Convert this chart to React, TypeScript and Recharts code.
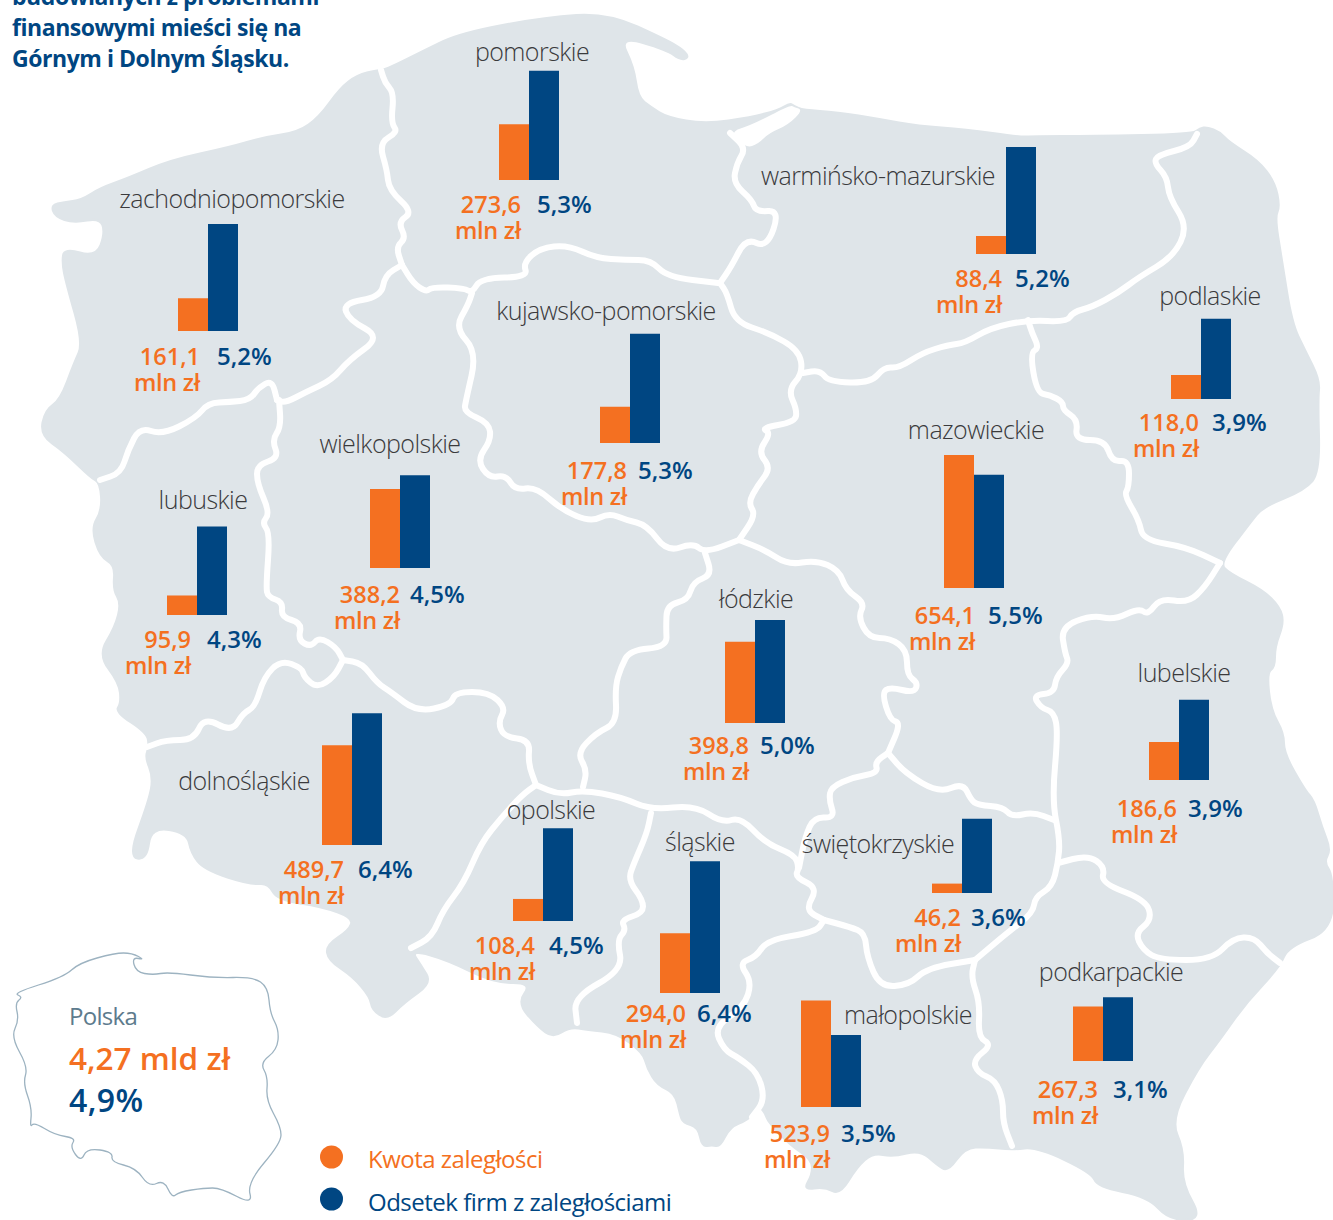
import { BarChart, Bar, XAxis, YAxis } from "recharts";

const ORANGE = "#f47021";
const BLUE = "#004682";
const MAP_GREY = "#dfe5e9";
const FONT = "'Open Sans', sans-serif";

// data
const regions = ["pomorskie", "zachodniopomorskie", "warmińsko-mazurskie", "podlaskie", "kujawsko-pomorskie", "wielkopolskie", "lubuskie", "mazowieckie", "łódzkie", "lubelskie", "dolnośląskie", "opolskie", "śląskie", "świętokrzyskie", "małopolskie", "podkarpackie"];
const amounts = [273.6, 161.1, 88.4, 118.0, 177.8, 388.2, 95.9, 654.1, 398.8, 186.6, 489.7, 108.4, 294.0, 46.2, 523.9, 267.3];
const shares = [5.3, 5.2, 5.2, 3.9, 5.3, 4.5, 4.3, 5.5, 5.0, 3.9, 6.4, 4.5, 6.4, 3.6, 3.5, 3.1];

// layout, same order as regions: bar left, bar baseline
const barLeft = [499, 178, 976, 1171, 600, 370, 167, 944, 725, 1149, 322, 513, 660, 932, 801, 1073];
const barBase = [180, 331, 254, 399, 443, 568, 615, 588, 723, 780, 845, 921, 993, 893, 1107, 1061];
// name label centre x, baseline y
const nameX = [532, 232, 878, 1210, 606, 390, 203, 976, 756, 1184, 244, 551, 700, 878, 908, 1111];
const nameY = [61, 208, 185, 305, 320, 453, 509, 439, 608, 682, 790, 819, 851, 853, 1024, 981];
// value labels: amount right edge, share left edge, baseline
const amountX = [521, 200, 1002, 1199, 627, 400, 191, 975, 749, 1177, 344, 535, 686, 961, 830, 1098];
const shareX = [537, 217, 1015, 1212, 638, 410, 207, 988, 760, 1188, 358, 549, 697, 971, 841, 1113];
const valueY = [213, 365, 287, 431, 479, 603, 648, 624, 754, 817, 878, 954, 1022, 926, 1142, 1098];

const CHART_H = 140;
const AMOUNT_MAX = 688; // 0.2035 px per mln zł
const SHARE_MAX = 6.796; // 20.6 px per percent

type Pt = number[];

const outline: Pt[] = [
  [51, 205], [64, 202], [81, 200], [100, 188], [128, 178], [170, 160], [230, 147], [264, 137], [298, 132], [319, 117], [340, 88], [357, 75], [377, 70], [385, 70],
  [425, 50], [460, 33], [545, 17], [608, 13], [667, 40], [684, 50], [689, 58], [680, 60], [667, 50], [619, 36], [634, 67], [638, 97], [651, 107], [667, 117],
  [705, 124], [752, 117], [778, 110], [790, 103], [794, 106], [803, 110], [837, 112], [880, 119], [918, 126], [965, 129], [1020, 137], [1033, 136], [1092, 136],
  [1192, 134], [1200, 128], [1207, 127], [1220, 132], [1229, 142], [1258, 160], [1275, 182], [1280, 207], [1275, 217], [1282, 260], [1292, 323], [1305, 350],
  [1320, 380], [1318, 400], [1320, 472], [1305, 490], [1263, 507], [1250, 523], [1220, 563], [1229, 573], [1263, 590], [1280, 607], [1284, 623], [1275, 647],
  [1275, 667], [1267, 673], [1271, 710], [1284, 733], [1284, 753], [1305, 790], [1314, 800], [1322, 827], [1331, 850], [1324, 862], [1333, 875], [1333, 930],
  [1288, 947], [1280, 967], [1246, 1003], [1220, 1040], [1199, 1067], [1171, 1120], [1184, 1150], [1182, 1183], [1203, 1220], [1169, 1220], [1148, 1197], [1097, 1187],
  [1092, 1173], [1037, 1147], [1012, 1150], [986, 1147], [965, 1148], [948, 1172], [937, 1165], [920, 1150], [893, 1157], [873, 1153], [857, 1167], [840, 1195],
  [825, 1187], [803, 1190], [812, 1175], [812, 1160], [790, 1145], [768, 1122], [765, 1113], [760, 1107], [748, 1120], [730, 1127], [720, 1147], [712, 1145],
  [702, 1147], [698, 1127], [683, 1123], [680, 1115], [675, 1093], [657, 1085], [647, 1068], [643, 1053], [617, 1033], [587, 1030], [570, 1027], [553, 1038],
  [538, 1027], [517, 1003], [532, 983], [494, 983], [447, 960], [411, 950], [421, 965], [432, 983], [404, 1003], [387, 1020], [372, 1010], [370, 997], [353, 977],
  [328, 960], [326, 945], [349, 930], [353, 918], [323, 907], [277, 900], [268, 883], [251, 885], [204, 870], [191, 853], [187, 833], [151, 827], [147, 860], [128, 857],
  [149, 800], [153, 777], [145, 757], [149, 747], [147, 733], [115, 712], [121, 703], [119, 683], [98, 655], [115, 627], [121, 603], [113, 590], [115, 565], [100, 557],
  [91, 528], [102, 510], [100, 483], [91, 478], [64, 452], [40, 435], [45, 410], [60, 400], [74, 363], [83, 343], [66, 283], [62, 263], [64, 248], [96, 257], [105, 233],
  [100, 218], [74, 223], [55, 217],
];

// Vistula lagoon, the white channel behind the spit
const lagoon: Pt[] = [[729, 132], [752, 125], [790, 105], [794, 107], [803, 110], [788, 125], [769, 133], [758, 144], [746, 148]];

const borders: Pt[][] = [
  [[381, 70], [385, 83], [394, 93], [391, 123], [398, 132], [379, 143], [387, 170], [389, 190], [413, 212], [398, 222], [406, 238], [396, 247], [402, 265]],
  [[402, 265], [385, 275], [381, 297], [343, 303], [349, 320], [381, 337], [349, 360], [332, 380], [306, 392], [285, 403], [277, 400]],
  [[277, 400], [272, 380], [258, 388], [250, 400], [230, 402], [208, 403], [196, 418], [162, 435], [140, 427], [128, 450], [121, 473], [100, 480]],
  [[279, 400], [281, 427], [272, 440], [279, 458], [257, 465], [257, 483], [270, 513], [262, 523], [270, 533], [266, 587], [268, 597], [283, 602], [281, 617], [302, 623], [298, 640], [311, 647], [319, 637], [336, 647], [343, 660]],
  [[343, 660], [334, 677], [317, 688], [304, 677], [302, 668], [281, 660], [264, 677], [255, 707], [243, 713], [232, 732], [204, 717], [194, 740], [166, 740], [147, 747]],
  [[343, 660], [362, 663], [377, 683], [391, 692], [417, 712], [451, 705], [455, 692], [489, 692], [506, 708], [498, 722], [504, 737], [530, 740], [528, 763], [536, 785]],
  [[536, 785], [522, 795], [502, 817], [481, 843], [464, 883], [443, 910], [432, 937], [411, 948]],
  [[536, 785], [560, 795], [583, 790], [621, 797], [651, 810], [695, 805], [722, 823], [741, 817], [765, 843], [795, 855], [799, 868], [795, 877], [818, 888], [805, 910], [824, 920]],
  [[651, 813], [647, 833], [634, 863], [628, 880], [643, 900], [643, 913], [621, 920], [626, 930], [617, 940], [623, 970], [574, 997], [577, 1023]],
  [[824, 920], [816, 932], [767, 940], [756, 957], [739, 963], [752, 982], [744, 1007], [714, 1027], [724, 1050], [739, 1058], [758, 1073], [765, 1100], [752, 1117]],
  [[583, 787], [587, 770], [577, 753], [596, 733], [617, 723], [615, 687], [621, 667], [630, 650], [667, 647], [666, 627], [667, 605], [688, 600], [693, 582], [712, 575], [705, 553]],
  [[739, 540], [705, 553], [693, 543], [667, 552], [647, 525], [626, 520], [609, 513], [591, 522], [562, 510], [536, 487], [515, 490], [506, 475], [489, 478], [477, 460], [491, 440], [489, 423], [464, 412], [466, 400], [477, 352], [455, 328], [468, 305], [472, 293]],
  [[739, 540], [765, 550], [788, 565], [816, 560], [839, 570], [846, 590], [865, 603], [858, 617], [869, 638], [890, 638], [907, 650], [907, 675], [918, 683], [914, 693], [890, 687], [882, 693], [890, 720], [901, 723], [888, 753]],
  [[888, 753], [875, 762], [878, 773], [854, 777], [831, 787], [829, 800], [835, 818], [814, 817], [805, 837], [799, 868]],
  [[888, 753], [905, 773], [939, 793], [963, 783], [971, 800], [978, 805], [1003, 807], [1012, 817], [1033, 812], [1054, 820]],
  [[1220, 563], [1205, 587], [1188, 603], [1160, 598], [1148, 615], [1139, 608], [1114, 620], [1092, 615], [1061, 627], [1065, 653], [1069, 663], [1056, 677], [1054, 693], [1033, 695], [1041, 708], [1054, 712], [1058, 733], [1052, 800], [1060, 840], [1058, 863], [1052, 887], [1035, 897], [1033, 913], [1007, 933], [975, 960]],
  [[824, 920], [850, 927], [865, 933], [867, 957], [880, 987], [909, 985], [927, 968], [975, 960]],
  [[975, 960], [971, 977], [980, 1003], [978, 1037], [992, 1045], [973, 1060], [978, 1073], [995, 1080], [1003, 1100], [1003, 1123], [1012, 1146]],
  [[1058, 863], [1088, 855], [1105, 867], [1101, 883], [1146, 900], [1152, 920], [1135, 933], [1143, 950], [1160, 960], [1212, 960], [1233, 938], [1254, 937], [1267, 953], [1280, 963]],
  [[402, 265], [413, 283], [426, 292], [432, 287], [464, 288], [472, 293], [481, 278], [528, 277], [523, 263], [540, 248], [568, 245], [596, 258], [626, 260], [651, 260], [667, 277], [718, 283]],
  [[739, 540], [756, 515], [748, 503], [758, 485], [771, 468], [758, 452], [771, 433], [761, 428], [795, 422], [797, 410], [788, 390], [803, 373], [799, 350], [769, 333], [735, 322], [727, 293], [720, 283]],
  [[720, 283], [731, 267], [746, 238], [767, 248], [780, 210], [756, 212], [752, 200], [733, 183], [737, 163], [746, 148], [730, 133]],
  [[803, 373], [820, 370], [829, 382], [871, 383], [884, 367], [899, 368], [922, 353], [948, 345], [965, 343], [990, 328], [1028, 320], [1067, 322], [1073, 312], [1092, 307], [1118, 293], [1139, 277], [1173, 257], [1188, 227], [1169, 197], [1167, 177], [1154, 163], [1158, 155], [1190, 147], [1197, 134]],
  [[1028, 320], [1032, 333], [1039, 348], [1030, 353], [1037, 393], [1050, 395], [1063, 402], [1063, 410], [1078, 420], [1075, 440], [1105, 440], [1112, 462], [1129, 460], [1129, 487], [1124, 495], [1139, 520], [1143, 540], [1186, 547], [1220, 563]],
];

const insetOutline: Pt[] = [
  [13, 993], [64, 977], [79, 963], [115, 953], [132, 953], [145, 960], [132, 957], [136, 972], [153, 975], [168, 972], [213, 978], [253, 977], [268, 987], [270, 1013], [279, 1030], [277, 1050],
  [260, 1063], [268, 1077], [266, 1100], [281, 1127], [281, 1143], [247, 1183], [253, 1205], [221, 1188], [204, 1188], [179, 1192], [172, 1198], [164, 1180], [149, 1187], [136, 1168], [111, 1162],
  [113, 1152], [87, 1148], [81, 1162], [70, 1147], [76, 1138], [55, 1135], [34, 1122], [30, 1128], [32, 1108], [23, 1083], [28, 1067], [11, 1037], [19, 1020], [15, 1003], [23, 997],
];

const mid = (a: Pt, b: Pt) => ((a[0] + b[0]) / 2) + "," + ((a[1] + b[1]) / 2);

// rounds the hand-traced corners with quadratics through the midpoints
function smoothLine(pts: Pt[]) {
  let d = "M" + pts[0].join(",") + "L" + mid(pts[0], pts[1]);
  for (let i = 1; i < pts.length - 1; i++) {
    d += "Q" + pts[i].join(",") + " " + mid(pts[i], pts[i + 1]);
  }
  return d + "L" + pts[pts.length - 1].join(",");
}

function smoothLoop(pts: Pt[]) {
  const n = pts.length;
  let d = "M" + mid(pts[n - 1], pts[0]);
  for (let i = 0; i < n; i++) {
    d += "Q" + pts[i].join(",") + " " + mid(pts[i], pts[(i + 1) % n]);
  }
  return d + "Z";
}

function RegionBars({ index }: { index: number }) {
  const data = [{ region: regions[index], amount: amounts[index], share: shares[index] }];
  return (
    <div style={{ position: "absolute", left: barLeft[index], top: barBase[index] - CHART_H }}>
      <BarChart width={60} height={CHART_H} data={data} margin={{ top: 0, right: 0, bottom: 0, left: 0 }} barCategoryGap={0} barGap={0}>
        <XAxis dataKey="region" hide />
        <YAxis yAxisId="amount" domain={[0, AMOUNT_MAX]} hide />
        <YAxis yAxisId="share" domain={[0, SHARE_MAX]} hide />
        <Bar yAxisId="amount" dataKey="amount" fill={ORANGE} isAnimationActive={false} />
        <Bar yAxisId="share" dataKey="share" fill={BLUE} isAnimationActive={false} />
      </BarChart>
    </div>
  );
}

const fmt = (v: number) => v.toFixed(1).replace(".", ",");

export default function App() {
  return (
    <div style={{ position: "absolute", left: 0, top: 0, width: 1333, height: 1220, overflow: "hidden", background: "#fff", fontFamily: FONT }}>
      <svg width={1333} height={1220} style={{ position: "absolute", left: 0, top: 0 }}>
        <path d={smoothLoop(outline)} fill={MAP_GREY} stroke={MAP_GREY} strokeWidth={2} strokeLinejoin="round" />
        <path d={smoothLoop(lagoon)} fill="#fff" />
        {borders.map((b, i) => (
          <path key={i} d={smoothLine(b)} fill="none" stroke="#fff" strokeWidth={6} strokeLinejoin="round" strokeLinecap="round" />
        ))}
        <path d={smoothLoop(insetOutline)} fill="none" stroke="#9db3c1" strokeWidth={1.3} strokeLinejoin="round" />
      </svg>

      {regions.map((_, i) => (
        <RegionBars key={i} index={i} />
      ))}

      <svg width={1333} height={1220} style={{ position: "absolute", left: 0, top: 0, pointerEvents: "none" }}>
        <text fontFamily={FONT} fontSize={23} fontWeight={700} fill={BLUE} letterSpacing={-0.45}>
          <tspan x={12} y={5}>budowlanych z problemami</tspan>
          <tspan x={12} y={36}>finansowymi mieści się na</tspan>
          <tspan x={12} y={67}>Górnym i Dolnym Śląsku.</tspan>
        </text>

        {regions.map((name, i) => (
          <g key={name} fontFamily={FONT}>
            <text x={nameX[i]} y={nameY[i]} textAnchor="middle" fontSize={25} fontWeight={300} fill="#3a3a3c" letterSpacing={-0.55}>{name}</text>
            <text textAnchor="end" fontSize={23.5} fontWeight={600} fill={ORANGE}>
              <tspan x={amountX[i]} y={valueY[i]}>{fmt(amounts[i])}</tspan>
              <tspan x={amountX[i]} y={valueY[i] + 26} letterSpacing={-0.3}>mln zł</tspan>
            </text>
            <text x={shareX[i]} y={valueY[i]} fontSize={24} fontWeight={600} fill={BLUE}>{fmt(shares[i]) + "%"}</text>
          </g>
        ))}

        <g fontFamily={FONT}>
          <text x={69} y={1025} fontSize={24} fill="#5d7b8d" letterSpacing={-0.7}>Polska</text>
          <text x={69} y={1070} fontSize={31.5} fontWeight={600} fill={ORANGE}>4,27 mld zł</text>
          <text x={69} y={1112} fontSize={32} fontWeight={600} fill={BLUE} letterSpacing={0.4}>4,9%</text>
          <circle cx={331.5} cy={1157} r={11.5} fill={ORANGE} />
          <circle cx={331.5} cy={1199} r={11.5} fill={BLUE} />
          <text x={368} y={1168} fontSize={24} fill={ORANGE} letterSpacing={-0.5}>Kwota zaległości</text>
          <text x={368} y={1211} fontSize={24} fill={BLUE} letterSpacing={-0.5}>Odsetek firm z zaległościami</text>
        </g>
      </svg>
    </div>
  );
}
